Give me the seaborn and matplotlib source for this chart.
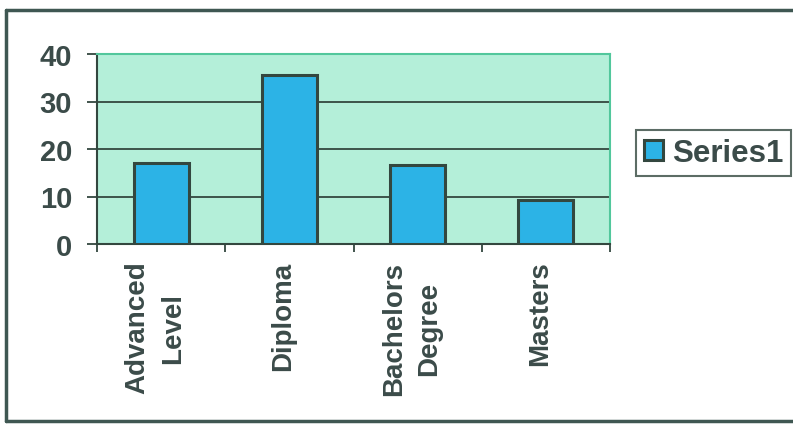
import matplotlib
matplotlib.use("Agg")
import matplotlib.pyplot as plt
import matplotlib.transforms as mtransforms
from matplotlib.lines import Line2D
import seaborn as sns
import pandas as pd

# Data
categories = ["Advanced\nLevel", "Diploma", "Bachelors\nDegree", "Masters"]
values = [17, 35.5, 16.6, 9.3]
series_name = "Series1"
y_ticks = [0, 10, 20, 30, 40]

df = pd.DataFrame({"category": categories, "value": values})

sns.set_style("white")
plt.rcParams["font.family"] = ["Liberation Sans", "DejaVu Sans"]
plt.rcParams["font.weight"] = "bold"

text_col = "#3b4b49"
dark = "#33473f"
bar_col = "#2cb3e6"
plot_bg = "#b4efd9"
green_edge = "#52c79c"

fig = plt.figure(figsize=(7.93, 4.27), dpi=100)
fig.patch.set_facecolor("white")
ax = fig.add_axes([97 / 793, 1 - 245 / 427, (610 - 97) / 793, (245 - 55) / 427])
ax.set_facecolor(plot_bg)

sns.barplot(data=df, x="category", y="value", color=bar_col, saturation=1,
            edgecolor=dark, linewidth=2.2, width=0.43, ax=ax, label=series_name,
            zorder=3)
for p in ax.patches:
    p.set_facecolor(bar_col)

ax.set_xlim(-0.5, len(categories) - 0.5)
ax.set_ylim(0, 40)
ax.set_yticks(y_ticks)
ax.set_xlabel("")
ax.set_ylabel("")

# horizontal gridlines
ax.yaxis.grid(True, color=dark, linewidth=1.3, zorder=1)
ax.set_axisbelow(True)

# spines
for s in ["top", "right"]:
    ax.spines[s].set_color(green_edge)
    ax.spines[s].set_linewidth(1.5)
for s in ["left", "bottom"]:
    ax.spines[s].set_color(dark)
    ax.spines[s].set_linewidth(1.5)

ax.tick_params(axis="y", length=7, width=1.3, color=dark, pad=11,
               labelsize=21, labelcolor=text_col, left=True)
ax.tick_params(axis="x", which="major", length=0, pad=12,
               labelsize=20, labelcolor=text_col)
ax.set_xticks([i - 0.5 for i in range(len(categories) + 1)], minor=True)
ax.tick_params(axis="x", which="minor", length=6, width=1.3, color=dark,
               bottom=True)
ax.set_xticks(range(len(categories)))
ax.set_xticklabels(categories, rotation=90, linespacing=1.45,
                   multialignment="center", fontweight="bold")
shift = mtransforms.ScaledTranslation(-6 / 100, 0, fig.dpi_scale_trans)
for lab in ax.get_xticklabels():
    lab.set_transform(lab.get_transform() + shift)
for lab in ax.get_yticklabels():
    lab.set_fontweight("bold")

leg = ax.legend(loc="center left", bbox_to_anchor=(636 / 793, 1 - 154 / 427),
                bbox_transform=fig.transFigure, fontsize=22.5, frameon=True,
                fancybox=False, handlelength=0.6, handleheight=0.6,
                handletextpad=0.3, borderpad=0.25, borderaxespad=0)
leg.get_frame().set_edgecolor(dark)
leg.get_frame().set_linewidth(1.5)
for t in leg.get_texts():
    t.set_color(text_col)
    t.set_fontweight("bold")

# outer chart border
fig.add_artist(Line2D([6 / 793, 6 / 793], [1 - 11 / 427, 1 - 422 / 427],
                      transform=fig.transFigure, color="#3f5752", linewidth=2.5))
fig.add_artist(Line2D([6 / 793, 1.0], [1 - 11 / 427, 1 - 11 / 427],
                      transform=fig.transFigure, color="#3f5752", linewidth=2.5))
fig.add_artist(Line2D([6 / 793, 1.0], [1 - 422 / 427, 1 - 422 / 427],
                      transform=fig.transFigure, color="#3f5752", linewidth=2.5))

fig.savefig("out.png", dpi=100, facecolor="white")
